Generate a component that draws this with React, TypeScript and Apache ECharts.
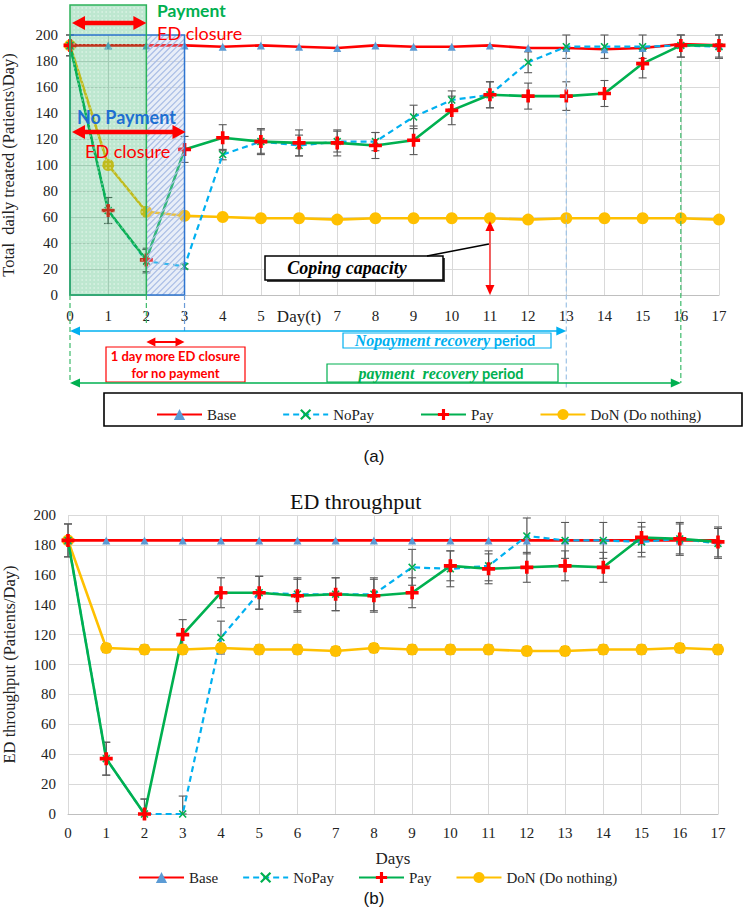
import React, { useEffect, useRef } from 'react';
import * as echarts from 'echarts';

const SERIF = 'Liberation Serif, Times New Roman, serif';
const SANS = 'Lato, Liberation Sans, sans-serif';

const days = [0, 1, 2, 3, 4, 5, 6, 7, 8, 9, 10, 11, 12, 13, 14, 15, 16, 17];
const seriesNames = ['Base', 'NoPay', 'Pay', 'DoN (Do nothing)'];

// (a) Total daily treated
const baseA = [192, 192, 192, 192, 191, 192, 191, 190, 192, 191, 191, 192, 190, 190, 189, 190, 193, 192];
const noPayA = [192, 65, 26, 22, 108, 118, 115, 118, 118, 137, 150, 154, 179, 191, 191, 191, 192, 191];
const payA = [192, 65, 27, 112, 121, 118, 117, 117, 115, 119, 142, 154, 153, 153, 155, 178, 192, 192];
const donA = [192, 100, 64, 61, 60, 59, 59, 58, 59, 59, 59, 59, 58, 59, 59, 59, 59, 58];
const payErrA = [8, 10, 9, 10, 10, 10, 10, 10, 10, 11, 11, 10, 10, 11, 10, 11, 9, 9];
const noPayErrA = [8, 10, 9, 2, 4, 9, 8, 8, 7, 9, 7, 10, 8, 9, 9, 9, 9, 9];

// (b) ED throughput
const baseB = [183, 183, 183, 183, 183, 183, 183, 183, 183, 183, 183, 183, 183, 183, 183, 183, 183, 183];
const noPayB = [183, 37, 0, 0, 118, 148, 147, 147, 147, 165, 164, 166, 186, 183, 183, 182, 184, 181];
const payB = [183, 37, 0, 120, 148, 148, 146, 147, 146, 148, 166, 164, 165, 166, 165, 185, 184, 182];
const donB = [183, 111, 110, 110, 111, 110, 110, 109, 111, 110, 110, 110, 109, 109, 110, 110, 111, 110];
const payErrB = [11, 11, 10, 10, 10, 11, 11, 11, 11, 10, 10, 10, 10, 10, 10, 10, 10, 10];
const noPayErrB = [11, 11, 10, 12, 11, 11, 11, 11, 11, 12, 12, 10, 12, 12, 12, 10, 11, 10];
const donErrB = [0, 3, 3, 3, 3, 3, 3, 3, 3, 3, 3, 3, 3, 3, 3, 3, 3, 3];

const yTicks = [0, 20, 40, 60, 80, 100, 120, 140, 160, 180, 200];

const PLUS = 'path://M3.6,0H6.4V3.6H10V6.4H6.4V10H3.6V6.4H0V3.6H3.6Z';
const CROSS = 'path://M1.4,0L5,3.6L8.6,0L10,1.4L6.4,5L10,8.6L8.6,10L5,6.4L1.4,10L0,8.6L3.6,5L0,1.4Z';

const RED = '#ff0000';
const BLUE = '#00b0f0';
const GREEN = '#00b050';
const YELLOW = '#ffc000';
const TRI = '#5b9bd5';

function lineSeries(name: string, data: number[], gi: number, color: string, mColor: string, symbol: string, size: number, dashed: boolean) {
  return {
    type: 'line',
    name,
    xAxisIndex: gi,
    yAxisIndex: gi,
    data: data.map((v, i) => [days[i], v]),
    symbol,
    symbolSize: size,
    showSymbol: true,
    lineStyle: { color, width: dashed ? 2.2 : 2.6, type: dashed ? [6, 4] : 'solid' },
    itemStyle: { color: mColor },
    z: 3,
  };
}

function errSeries(vals: number[], errs: number[], gi: number, maxV: number) {
  return {
    type: 'custom',
    xAxisIndex: gi,
    yAxisIndex: gi,
    z: 2,
    silent: true,
    data: vals.map((v, i) => [days[i], Math.max(0, v - errs[i]), Math.min(maxV, v + errs[i]), errs[i]]),
    renderItem: (params: any, api: any) => {
      if (api.value(3) === 0) return null;
      const x = api.value(0);
      const lo = api.coord([x, api.value(1)]);
      const hi = api.coord([x, api.value(2)]);
      const w = 4;
      const st = { stroke: '#595959', lineWidth: 1.1 };
      return {
        type: 'group',
        children: [
          { type: 'line', shape: { x1: lo[0], y1: lo[1], x2: hi[0], y2: hi[1] }, style: st },
          { type: 'line', shape: { x1: lo[0] - w, y1: lo[1], x2: lo[0] + w, y2: lo[1] }, style: st },
          { type: 'line', shape: { x1: hi[0] - w, y1: hi[1], x2: hi[0] + w, y2: hi[1] }, style: st },
        ],
      };
    },
  };
}

function hArrow(x1: number, x2: number, y: number, color: string, lw: number, hl: number, hw: number, z = 60) {
  return [
    { type: 'line', z, shape: { x1: x1 + hl * 0.7, y1: y, x2: x2 - hl * 0.7, y2: y }, style: { stroke: color, lineWidth: lw } },
    { type: 'polygon', z, shape: { points: [[x1, y], [x1 + hl, y - hw / 2], [x1 + hl, y + hw / 2]] }, style: { fill: color } },
    { type: 'polygon', z, shape: { points: [[x2, y], [x2 - hl, y - hw / 2], [x2 - hl, y + hw / 2]] }, style: { fill: color } },
  ];
}

function vArrow(x: number, y1: number, y2: number, color: string, lw: number, hl: number, hw: number, z = 60) {
  return [
    { type: 'line', z, shape: { x1: x, y1: y1 + hl * 0.7, x2: x, y2: y2 - hl * 0.7 }, style: { stroke: color, lineWidth: lw } },
    { type: 'polygon', z, shape: { points: [[x, y1], [x - hw / 2, y1 + hl], [x + hw / 2, y1 + hl]] }, style: { fill: color } },
    { type: 'polygon', z, shape: { points: [[x, y2], [x - hw / 2, y2 - hl], [x + hw / 2, y2 - hl]] }, style: { fill: color } },
  ];
}

function txt(x: number, y: number, text: string, size: number, color: string, opts: any = {}) {
  return {
    type: 'text',
    z: 70,
    x,
    y,
    style: {
      text,
      fill: color,
      fontSize: size,
      fontFamily: opts.family || SANS,
      fontWeight: opts.weight || 'normal',
      fontStyle: opts.style || 'normal',
      align: opts.align || 'left',
      textAlign: opts.align || 'left',
      verticalAlign: 'middle',
      textVerticalAlign: 'middle',
      rich: opts.rich,
    },
  };
}

function vDash(x: number, y1: number, y2: number, color: string) {
  return { type: 'line', z: 55, shape: { x1: x, y1, x2: x, y2 }, style: { stroke: color, lineWidth: 1.2, lineDash: [5, 3] } };
}

const axisLabelStyle = { fontFamily: SERIF, fontSize: 15, color: '#222' };

export default function App() {
  const ref = useRef<HTMLDivElement>(null);
  useEffect(() => {
    document.body.style.margin = '0';
    const chart = echarts.init(ref.current!, null, { renderer: 'svg' });
    const legendBase = {
      data: seriesNames,
      orient: 'horizontal',
      itemWidth: 45,
      itemHeight: 14,
      textStyle: { fontFamily: SERIF, fontSize: 15, color: '#222' },
      selectedMode: false,
    };
    const option: any = {
      animation: false,
      backgroundColor: '#ffffff',
      title: {
        text: 'ED throughput',
        left: 290,
        top: 490,
        padding: 0,
        textStyle: { fontFamily: SERIF, fontSize: 22, fontWeight: 'normal', color: '#111' },
      },
      legend: [
        { ...legendBase, left: 151, top: 402, itemGap: 46 },
        { ...legendBase, left: 133, top: 865, itemGap: 24 },
      ],
      grid: [
        { left: 70, right: 28, top: 35, height: 260, outerBoundsMode: 'none', containLabel: false },
        { left: 68, right: 29, top: 515, height: 299, outerBoundsMode: 'none', containLabel: false },
      ],
      xAxis: [0, 1].map((gi) => ({
        type: 'value',
        gridIndex: gi,
        min: 0,
        max: 17,
        interval: 1,
        name: gi === 1 ? 'Days' : '',
        nameLocation: 'middle',
        nameGap: 36,
        nameTextStyle: { fontFamily: SERIF, fontSize: 17, color: '#222' },
        axisLine: { show: true, lineStyle: { color: '#bfbfbf', width: 1 } },
        axisTick: { show: false },
        splitLine: { show: true, lineStyle: { color: '#d9d9d9', width: 1 } },
        axisLabel: {
          ...axisLabelStyle,
          margin: gi === 0 ? 13 : 11,
          formatter: (v: number) => (gi === 0 && v === 6 ? '{d|Day(t)}' : String(v)),
          rich: { d: { fontFamily: SERIF, fontSize: 17, color: '#222' } },
        },
      })),
      yAxis: [0, 1].map((gi) => ({
        type: 'value',
        gridIndex: gi,
        min: yTicks[0],
        max: yTicks[yTicks.length - 1],
        interval: 20,
        name: gi === 0 ? 'Total  daily treated (Patients\\Day)' : 'ED throughput (Patients/Day)',
        nameLocation: 'middle',
        nameGap: gi === 0 ? 53 : 50,
        nameTextStyle: { fontFamily: SERIF, fontSize: 16.5, color: '#222' },
        axisLine: { show: false },
        axisTick: { show: false },
        splitLine: { show: true, lineStyle: { color: '#d9d9d9', width: 1 } },
        axisLabel: { ...axisLabelStyle, margin: 12 },
      })),
      series: [
        errSeries(payA, payErrA, 0, 200),
        errSeries(noPayA, noPayErrA, 0, 200),
        lineSeries('DoN (Do nothing)', donA, 0, YELLOW, YELLOW, 'circle', 12, false),
        lineSeries('Base', baseA, 0, RED, TRI, 'triangle', 8, false),
        lineSeries('NoPay', noPayA, 0, BLUE, GREEN, CROSS, 8, true),
        lineSeries('Pay', payA, 0, GREEN, RED, PLUS, 13, false),
        errSeries(payB, payErrB, 1, 200),
        errSeries(noPayB, noPayErrB, 1, 200),
        errSeries(donB, donErrB, 1, 200),
        lineSeries('DoN (Do nothing)', donB, 1, YELLOW, YELLOW, 'circle', 12, false),
        lineSeries('Base', baseB, 1, RED, TRI, 'triangle', 8, false),
        lineSeries('NoPay', noPayB, 1, BLUE, GREEN, CROSS, 8, true),
        lineSeries('Pay', payB, 1, GREEN, RED, PLUS, 13, false),
      ],
    };
    chart.setOption(option);

    const P = (d: number, v: number) => chart.convertToPixel({ gridIndex: 0 }, [d, v]) as number[];
    const x0 = P(0, 0)[0];
    const x2 = P(2, 0)[0];
    const x3 = P(3, 0)[0];
    const x11 = P(11, 0)[0];
    const x13 = P(13, 0)[0];
    const x16 = P(16, 0)[0];
    const yBot = P(0, 0)[1];
    const y200 = P(0, 200)[1];
    const yTopG = 5;

    const els: any[] = [];
    // hatch area (day 2-3)
    els.push({ type: 'rect', z: 50, shape: { x: x2, y: y200, width: x3 - x2, height: yBot - y200 }, style: { fill: 'rgba(180,199,231,0.3)' } });
    for (let c = x2 + y200; c < x3 + yBot; c += 6) {
      const xa = Math.max(x2, c - yBot);
      const xb = Math.min(x3, c - y200);
      if (xb > xa) {
        els.push({ type: 'line', z: 51, shape: { x1: xa, y1: c - xa, x2: xb, y2: c - xb }, style: { stroke: '#a9bde6', lineWidth: 1.1 } });
      }
    }
    // green textured area (day 0-2)
    els.push({ type: 'rect', z: 52, shape: { x: x0, y: yTopG, width: x2 - x0, height: yBot - yTopG }, style: { fill: 'rgba(40,175,100,0.30)' } });
    for (let yy = yTopG + 3; yy < yBot - 1; yy += 4) {
      const off = ((yy - yTopG) / 4) % 2 === 0 ? 1.5 : 3.5;
      els.push({
        type: 'line',
        z: 52,
        shape: { x1: x0 + off, y1: yy, x2: x2 - 1, y2: yy },
        style: { stroke: 'rgba(255,255,255,0.55)', lineWidth: 1.3, lineDash: [1.3, 2.7] },
      });
    }
    // blue outline
    els.push({ type: 'rect', z: 53, shape: { x: x0, y: y200, width: x3 - x0, height: yBot - y200 }, style: { fill: 'none', stroke: '#2e75d0', lineWidth: 1.5 } });
    // green outline
    els.push({ type: 'rect', z: 54, shape: { x: x0, y: yTopG, width: x2 - x0, height: yBot - yTopG }, style: { fill: 'none', stroke: '#2cb35a', lineWidth: 1.5 } });

    // arrows and closure texts
    els.push(...hArrow(x0 + 2, x2, 23, RED, 4.5, 13, 14));
    els.push(txt(157, 10, 'Payment', 17.5, GREEN, { weight: 'bold' }));
    els.push(txt(157, 33, 'ED closure', 18, RED));
    els.push(txt(77, 117, 'No Payment', 18, '#1f6fd1', { weight: 'bold' }));
    els.push(...hArrow(x0 + 2, x3 + 1, 132, RED, 4.5, 13, 14));
    els.push(txt(85, 151, 'ED closure', 18, RED));

    // coping capacity
    els.push({ type: 'rect', z: 60, shape: { x: 267, y: 258, width: 178, height: 24 }, style: { fill: '#444' } });
    els.push({ type: 'rect', z: 61, shape: { x: 265, y: 256, width: 178, height: 24 }, style: { fill: '#fff', stroke: '#000', lineWidth: 1.5 } });
    els.push(txt(347, 268, 'Coping capacity', 18, '#000', { family: SERIF, weight: 'bold', style: 'italic', align: 'center' }));
    els.push({ type: 'line', z: 62, shape: { x1: 427, y1: 256, x2: x11 - 1, y2: 244 }, style: { stroke: '#000', lineWidth: 1.5 } });
    els.push(...vArrow(x11, P(11, 57)[1], yBot, RED, 1.2, 10, 9));

    // dashed verticals
    els.push(vDash(x0, yBot, 383, '#3cba6a'));
    els.push(vDash(x2, yBot, 323, '#3cba6a'));
    els.push(vDash(x3, yBot, 331, '#6b9bd8'));
    els.push(vDash(x13, P(13, 185)[1], 389, '#9dc3e6'));
    els.push(vDash(x16, P(16, 180)[1], 383, '#3cba6a'));

    // recovery arrows
    els.push(...hArrow(x0, x13, 331, BLUE, 1.6, 10, 9));
    els.push(...hArrow(x2, x3, 342, RED, 2, 9, 9));
    els.push(...hArrow(x0, x16, 383, GREEN, 1.6, 10, 9));

    // Nopayment box
    els.push({ type: 'rect', z: 58, shape: { x: 343, y: 333, width: 208, height: 15 }, style: { fill: '#fff', stroke: BLUE, lineWidth: 1.2 } });
    els.push(txt(445, 340.5, '{a|Nopayment recovery} {b|period}', 14, BLUE, {
      align: 'center',
      rich: {
        a: { fontFamily: SERIF, fontStyle: 'italic', fontWeight: 'bold', fontSize: 16, fill: BLUE, color: BLUE },
        b: { fontFamily: SANS, fontWeight: 'bold', fontSize: 14.5, fill: BLUE, color: BLUE },
      },
    }));
    // red box
    els.push({ type: 'rect', z: 58, shape: { x: 106, y: 347, width: 139, height: 35 }, style: { fill: '#fff', stroke: RED, lineWidth: 1.2 } });
    els.push(txt(175.5, 356, '1 day more ED closure', 13, RED, { weight: 'bold', align: 'center' }));
    els.push(txt(175.5, 373, 'for no payment', 13, RED, { weight: 'bold', align: 'center' }));
    // payment box
    els.push({ type: 'rect', z: 58, shape: { x: 327, y: 364, width: 231, height: 18 }, style: { fill: '#fff', stroke: GREEN, lineWidth: 1.2 } });
    els.push(txt(441, 373, '{a|payment  recovery} {b|period}', 14, GREEN, {
      align: 'center',
      rich: {
        a: { fontFamily: SERIF, fontStyle: 'italic', fontWeight: 'bold', fontSize: 16, fill: GREEN, color: GREEN },
        b: { fontFamily: SANS, fontWeight: 'bold', fontSize: 14.5, fill: GREEN, color: GREEN },
      },
    }));

    // legend (a) box
    els.push({ type: 'rect', z: 1, shape: { x: 104, y: 393, width: 638, height: 33 }, style: { fill: 'none', stroke: '#000', lineWidth: 1.6 } });
    // panel labels
    els.push(txt(374, 456, '(a)', 17, '#111', { family: 'Liberation Sans, Arial, sans-serif', align: 'center' }));
    els.push(txt(374, 898, '(b)', 17, '#111', { family: 'Liberation Sans, Arial, sans-serif', align: 'center' }));

    chart.setOption({ graphic: { elements: els } });
    return () => chart.dispose();
  }, []);
  return <div ref={ref} style={{ position: 'absolute', left: 0, top: 0, width: 747, height: 916 }} />;
}
